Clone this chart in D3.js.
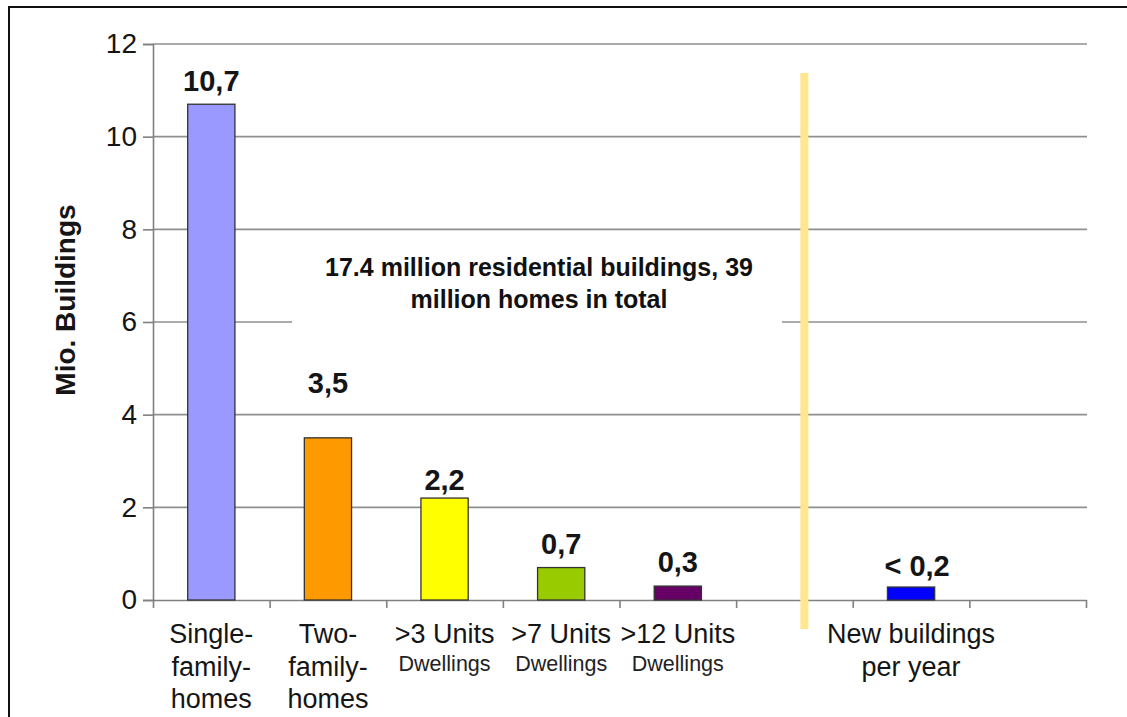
<!DOCTYPE html>
<html>
<head>
<meta charset="utf-8">
<script src="https://cdn.jsdelivr.net/npm/d3@7"></script>
<style>
  html, body { margin: 0; padding: 0; background: #fff; }
  svg { display: block; font-family: Arial, "Liberation Sans", sans-serif; }
</style>
</head>
<body>
<svg id="chart" width="1127" height="717"></svg>
<script>
// Building stock by type (million buildings)
const categories = ["single", "two", "u3", "u7", "u12", "gap", "new", "end"];
const labelLines = [
  ["Single-", "family-", "homes"],
  ["Two-", "family-", "homes"],
  [">3 Units"],
  [">7 Units"],
  [">12 Units"],
  [],
  ["New buildings", "per year"],
  []
];
const subLabels = ["", "", "Dwellings", "Dwellings", "Dwellings", "", "", ""];
const values = [10.7, 3.5, 2.2, 0.7, 0.3, null, 0.28, null];
const valueLabels = ["10,7", "3,5", "2,2", "0,7", "0,3", "", "< 0,2", ""];
const barColors = ["#9999ff", "#ff9900", "#ffff00", "#99cc00", "#660066", null, "#0000ff", null];
const yTicks = [0, 2, 4, 6, 8, 10, 12];
const noteLines = ["17.4 million residential buildings, 39", "million homes in total"];

// gap between bar top and its value label (px)
const labelGap = [13, 45, 8, 14, 14, 0, 11, 0];

const svg = d3.select("#chart");

const plot = { left: 153, right: 1086, top: 44, bottom: 600 };

const y = d3.scaleLinear().domain([0, 12]).range([plot.bottom, plot.top]);
const x = d3.scaleBand().domain(categories).range([plot.left, plot.right]).padding(0);
const xPos = d3.scaleLinear().domain([0, categories.length]).range([plot.left, plot.right]);

// outer frame (top and left edges)
svg.append("path")
  .attr("d", "M9,717 L9,7 L1127,7")
  .attr("fill", "none").attr("stroke", "#111").attr("stroke-width", 2);

// horizontal gridlines
svg.append("g")
  .selectAll("line")
  .data(yTicks.filter(d => d > 0))
  .join("line")
  .attr("x1", plot.left).attr("x2", plot.right + 1)
  .attr("y1", d => y(d)).attr("y2", d => y(d))
  .attr("stroke", "#8f8f8f").attr("stroke-width", 1.6);

// y axis
const yAxis = svg.append("g")
  .attr("transform", `translate(${plot.left},0)`)
  .call(d3.axisLeft(y).tickValues(yTicks).tickSize(10).tickPadding(6).tickFormat(d3.format("d")));
yAxis.select(".domain").attr("stroke", "#808080").attr("stroke-width", 1.6);
yAxis.selectAll(".tick line").attr("stroke", "#808080").attr("stroke-width", 1.6);
yAxis.selectAll(".tick text")
  .attr("font-size", 28).attr("fill", "#151515").attr("font-family", "Arial, 'Liberation Sans', sans-serif");

// x axis with ticks at category boundaries
const xAxis = svg.append("g")
  .attr("transform", `translate(0,${plot.bottom})`)
  .call(d3.axisBottom(xPos).tickValues(d3.range(0, categories.length + 1)).tickSize(8).tickSizeOuter(0).tickFormat(""));
xAxis.select(".domain").attr("stroke", "#808080").attr("stroke-width", 1.6);
xAxis.selectAll(".tick line").attr("stroke", "#808080").attr("stroke-width", 1.6);

// annotation with white backing
const note = svg.append("g");
note.append("rect")
  .attr("x", 292).attr("y", 246).attr("width", 490).attr("height", 84)
  .attr("fill", "#fff");
note.selectAll("text")
  .data(noteLines)
  .join("text")
  .attr("x", 539)
  .attr("y", (d, i) => 276 + i * 32)
  .attr("text-anchor", "middle")
  .attr("font-size", 25).attr("font-weight", "bold").attr("fill", "#111")
  .text(d => d);

// separator between stock and new construction
svg.append("rect")
  .attr("x", xPos(5.585) - 4).attr("y", 73)
  .attr("width", 8).attr("height", 556)
  .attr("fill", "#ffe68f");

// bars
const barW = x.bandwidth() * 0.405;
const barData = categories.map((c, i) => ({ c, i, v: values[i] })).filter(d => d.v != null);

svg.append("g")
  .selectAll("rect")
  .data(barData)
  .join("rect")
  .attr("x", d => x(d.c) + x.bandwidth() / 2 - barW / 2)
  .attr("y", d => y(d.v))
  .attr("width", barW)
  .attr("height", d => y(0) - y(d.v))
  .attr("fill", d => barColors[d.i])
  .attr("stroke", "#333").attr("stroke-width", 1.3);

// value labels
svg.append("g")
  .selectAll("text")
  .data(barData)
  .join("text")
  .attr("x", d => x(d.c) + x.bandwidth() / 2 + (d.c === "new" ? 6 : 0))
  .attr("y", d => y(d.v) - labelGap[d.i])
  .attr("text-anchor", "middle")
  .attr("font-size", 29).attr("font-weight", "bold").attr("fill", "#151515")
  .text(d => valueLabels[d.i]);

// category labels
const catG = svg.append("g");
categories.forEach((c, i) => {
  const cx = x(c) + x.bandwidth() / 2;
  labelLines[i].forEach((line, j) => {
    catG.append("text")
      .attr("x", cx).attr("y", 643 + j * 32.5)
      .attr("text-anchor", "middle")
      .attr("font-size", 27).attr("fill", "#151515")
      .text(line);
  });
  if (subLabels[i]) {
    catG.append("text")
      .attr("x", cx).attr("y", 671)
      .attr("text-anchor", "middle")
      .attr("font-size", 21.5).attr("fill", "#222")
      .text(subLabels[i]);
  }
});

// y axis title
svg.append("text")
  .attr("transform", "translate(75,300) rotate(-90)")
  .attr("text-anchor", "middle")
  .attr("font-size", 28).attr("font-weight", "bold").attr("fill", "#151515")
  .text("Mio. Buildings");
</script>
</body>
</html>
